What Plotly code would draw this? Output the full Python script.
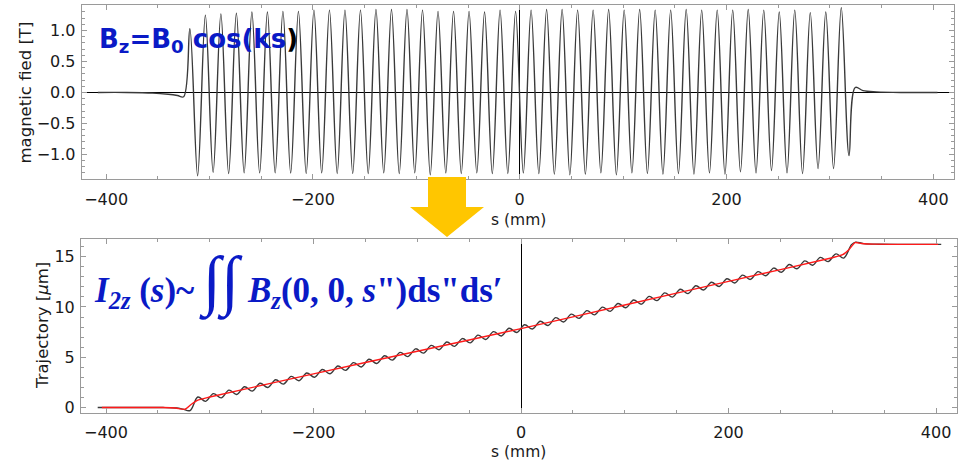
import plotly.graph_objects as go

# ---------------- data ----------------
# Top panel: magnetic field B_z(s) [T]; extrema of the oscillation plus the flat ends
field_s = [-408, -380, -355, -340, -331, -325,
           -319, -311.5, -304, -296.5, -289, -281.5, -274, -266.5, -259, -251.5,
           -244, -236.5, -229, -221.5, -214, -206.5, -199, -191.5, -184, -176.5,
           -169, -161.5, -154, -146.5, -139, -131.5, -124, -116.5, -109, -101.5,
           -94, -86.5, -79, -71.5, -64, -56.5, -49, -41.5, -34, -26.5,
           -19, -11.5, -4, 3.5, 11, 18.5, 26, 33.5, 41, 48.5,
           56, 63.5, 71, 78.5, 86, 93.5, 101, 108.5, 116, 123.5,
           131, 138.5, 146, 153.5, 161, 168.5, 176, 183.5, 191, 198.5,
           206, 213.5, 221, 228.5, 236, 243.5, 251, 258.5, 266, 273.5,
           281, 288.5, 296, 303.5, 311, 318.5,
           324.5, 332, 345, 370, 404]
field_b = [0, 0, -0.01, -0.03, -0.05, -0.07,
           1.03, -1.345, 1.25, -1.29, 1.27, -1.31, 1.28, -1.30, 1.30, -1.30,
           1.30, -1.30, 1.31, -1.30, 1.31, -1.31, 1.33, -1.30, 1.33, -1.31,
           1.33, -1.31, 1.33, -1.31, 1.34, -1.30, 1.34, -1.31, 1.34, -1.30,
           1.33, -1.33, 1.31, -1.30, 1.31, -1.31, 1.31, -1.30, 1.30, -1.31,
           1.33, -1.31, 1.31, -1.30, 1.33, -1.31, 1.34, -1.32, 1.34, -1.33,
           1.33, -1.32, 1.33, -1.30, 1.34, -1.33, 1.33, -1.30, 1.34, -1.31,
           1.33, -1.32, 1.33, -1.31, 1.34, -1.32, 1.33, -1.30, 1.33, -1.32,
           1.33, -1.28, 1.34, -1.30, 1.33, -1.26, 1.30, -1.30, 1.33, -1.31,
           1.29, -1.23, 1.30, -1.23, 1.37, -1.02,
           0.08, 0.03, 0.01, 0, 0]

# Bottom panel: trajectory [um], black oscillating curve (extrema + ends)
traj_s = [-408, -370, -345, -332, -326, -319,
          -311.5, -304, -296.5, -289, -281.5, -274, -266.5, -259, -251.5, -244,
          -236.5, -229, -221.5, -214, -206.5, -199, -191.5, -184, -176.5, -169,
          -161.5, -154, -146.5, -139, -131.5, -124, -116.5, -109, -101.5, -94,
          -86.5, -79, -71.5, -64, -56.5, -49, -41.5, -34, -26.5, -19,
          -11.5, -4, 3.5, 11, 18.5, 26, 33.5, 41, 48.5, 56,
          63.5, 71, 78.5, 86, 93.5, 101, 108.5, 116, 123.5, 131,
          138.5, 146, 153.5, 161, 168.5, 176, 183.5, 191, 198.5, 206,
          213.5, 221, 228.5, 236, 243.5, 251, 258.5, 266, 273.5, 281,
          288.5, 296, 303.5, 311, 318.5,
          322.5, 330, 345, 380, 405]
traj_y = [0, 0, 0, -0.05, -0.15, -0.30,
          1.05, 0.62, 1.39, 0.96, 1.73, 1.30, 2.07, 1.64, 2.42, 1.99,
          2.76, 2.33, 3.10, 2.67, 3.44, 3.01, 3.78, 3.36, 4.13, 3.70,
          4.47, 4.04, 4.81, 4.38, 5.15, 4.72, 5.49, 5.07, 5.84, 5.41,
          6.18, 5.75, 6.52, 6.09, 6.86, 6.43, 7.20, 6.77, 7.55, 7.12,
          7.89, 7.46, 8.23, 7.81, 8.58, 8.16, 8.94, 8.51, 9.29, 8.87,
          9.64, 9.22, 9.99, 9.57, 10.35, 9.92, 10.70, 10.28, 11.05, 10.63,
          11.40, 10.98, 11.76, 11.33, 12.11, 11.69, 12.46, 12.04, 12.81, 12.39,
          13.17, 12.74, 13.52, 13.10, 13.87, 13.45, 14.22, 13.80, 14.58, 14.15,
          14.93, 14.51, 15.28, 14.86, 16.20,
          16.45, 16.30, 16.24, 16.23, 16.23]

# Bottom panel: averaged trajectory (red)
red_s = [-404, -345, -333, -324, -318, -312, -300, -200, -100, 0,
         100, 200, 300, 310, 316, 322, 328, 340, 402]
red_y = [0, 0, -0.05, -0.17, 0.30, 0.72, 1.05, 3.35, 5.60, 7.85,
         10.20, 12.55, 14.90, 15.20, 15.70, 16.40, 16.32, 16.25, 16.23]

x_title = "s (mm)"
y1_title = "magnetic fied [T]"
y2_title = "Trajectory [<i>μ</i>m]"

# ---------------- layout helpers ----------------
W, H = 965, 464
ML, MR, MT, MB = 81, 8, 5, 51
PW = W - ML - MR
PH = H - MT - MB


def px(x):
    return (x - ML) / PW


def py(y):
    return (H - MB - y) / PH


FRAME = "#9a9a9a"
TXT = "#1a1a1a"
BLUE = "#0a1ac6"
tickfont = dict(family="DejaVu Sans", size=16, color=TXT)

fig = go.Figure()
fig.add_trace(go.Scatter(x=field_s, y=field_b, mode="lines",
                         line=dict(color="#3a3a3a", width=1.4, shape="spline", smoothing=1),
                         xaxis="x", yaxis="y", hoverinfo="skip", showlegend=False))
fig.add_trace(go.Scatter(x=traj_s, y=traj_y, mode="lines",
                         line=dict(color="#3a3a3a", width=1.4, shape="spline", smoothing=1),
                         xaxis="x2", yaxis="y2", hoverinfo="skip", showlegend=False))
fig.add_trace(go.Scatter(x=red_s, y=red_y, mode="lines",
                         line=dict(color="#ff1a1a", width=1.4, shape="spline", smoothing=0.6),
                         xaxis="x2", yaxis="y2", hoverinfo="skip", showlegend=False))


def frame_axis(**kw):
    d = dict(showline=True, linecolor=FRAME, linewidth=1, mirror="ticks",
             ticks="inside", ticklen=5, tickcolor=FRAME, tickwidth=1,
             showgrid=False, tickfont=tickfont, tickmode="linear", tick0=0,
             automargin=False)
    d.update(kw)
    return d


fig.update_layout(
    width=W, height=H,
    margin=dict(l=ML, r=MR, t=MT, b=MB, autoexpand=False),
    paper_bgcolor="white", plot_bgcolor="white",
    showlegend=False,
    xaxis=frame_axis(domain=[px(81.7), px(954)], anchor="y", range=[-423.6, 420.0],
                     dtick=200, ticklabelstandoff=5,
                     minor=dict(dtick=50, tick0=0, ticks="inside", ticklen=3, tickcolor=FRAME),
                     zeroline=True, zerolinecolor="black", zerolinewidth=1),
    yaxis=frame_axis(domain=[py(179.3), 1], anchor="x", range=[-1.403, 1.413],
                     dtick=0.5, tickformat=".1f", ticklabelstandoff=2,
                     minor=dict(dtick=0.1, tick0=0, ticks="inside", ticklen=3, tickcolor=FRAME),
                     zeroline=True, zerolinecolor="black", zerolinewidth=1),
    xaxis2=frame_axis(domain=[0, 1], anchor="y2", range=[-424.1, 420.2],
                      dtick=200, ticklabelstandoff=5,
                      minor=dict(dtick=50, tick0=0, ticks="inside", ticklen=3, tickcolor=FRAME),
                      zeroline=True, zerolinecolor="black", zerolinewidth=1),
    yaxis2=frame_axis(domain=[0, py(239)], anchor="x2", range=[-0.54, 16.76],
                      dtick=5, ticklabelstandoff=2,
                      minor=dict(dtick=1, tick0=0, ticks="inside", ticklen=3, tickcolor=FRAME),
                      zeroline=False),
)

ann_font = dict(family="DejaVu Sans", size=15.5, color=TXT)
annotations = [
    dict(text=x_title, x=px(518), y=py(220), xref="paper", yref="paper",
         xanchor="center", yanchor="middle", showarrow=False, font=ann_font),
    dict(text=x_title, x=px(518), y=py(452), xref="paper", yref="paper",
         xanchor="center", yanchor="middle", showarrow=False, font=ann_font),
    dict(text=y1_title, x=px(25), y=py(92.5), xref="paper", yref="paper", textangle=-90,
         xanchor="center", yanchor="middle", showarrow=False,
         font=dict(family="DejaVu Sans", size=16.5, color=TXT)),
    dict(text=y2_title, x=px(42), y=py(326), xref="paper", yref="paper", textangle=-90,
         xanchor="center", yanchor="middle", showarrow=False,
         font=dict(family="DejaVu Sans", size=16.5, color=TXT)),
    dict(text='<b>B<sub>z</sub>=B<sub>0</sub> cos(ks<span style="color:#000000">)</span></b>',
         x=px(97), y=py(40), xref="paper", yref="paper", xanchor="left", yanchor="middle",
         showarrow=False, font=dict(family="DejaVu Sans", size=26, color=BLUE)),
    dict(text='<b><i>I</i><sub><i>2z</i></sub> (<i>s</i>)~ <span style="font-size:66px">∫∫</span> '
              '<i>B</i><sub><i>z</i></sub>(0, 0, <i>s</i>")ds"ds′</b>',
         x=px(92), y=py(281), xref="paper", yref="paper", xanchor="left", yanchor="middle",
         showarrow=False, font=dict(family="Liberation Serif", size=35, color=BLUE)),
]
fig.update_layout(annotations=annotations)

# yellow arrow between the panels
arrow = ("M {a},{t} L {b},{t} L {b},{hb} L {r},{hb} L {tipx},{tipy} L {l},{hb} L {a},{hb} Z"
         .format(a=px(428), b=px(466), t=py(177), hb=py(207), r=px(484), l=px(410),
                 tipx=px(447), tipy=py(237)))
fig.add_shape(type="path", path=arrow, xref="paper", yref="paper",
              fillcolor="#ffc600", line=dict(width=0), layer="above")

fig.write_html("out.html",
               config={"displayModeBar": False, "staticPlot": True},
               post_script="document.body.style.margin='0px';document.body.style.padding='0px';"
                           "document.body.style.overflow='hidden';")
